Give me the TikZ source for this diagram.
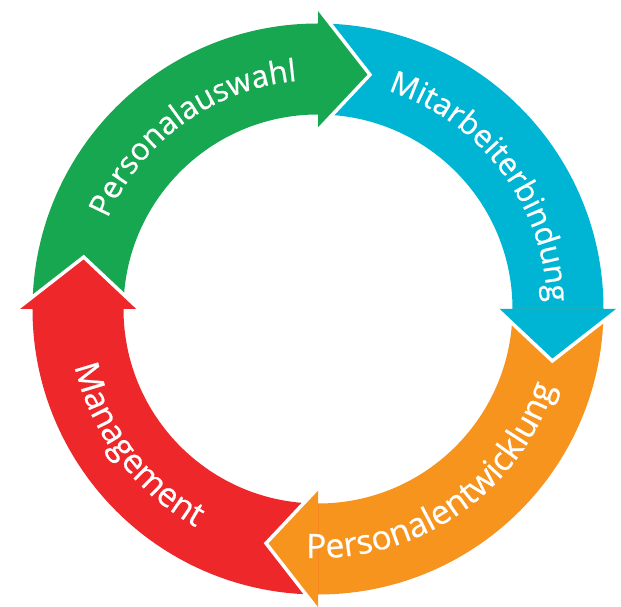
\documentclass[tikz,border=0pt]{standalone}
\usepackage{fontspec}
\setmainfont{Open Sans}
\newfontfamily\labelface{Open Sans}[FakeBold=0.6]
\usepackage{tikz}
\usetikzlibrary{decorations.text}

\definecolor{selgreen}{RGB}{23,167,81}
\definecolor{bindcyan}{RGB}{0,181,211}
\definecolor{devorange}{RGB}{247,148,30}
\definecolor{mgmtred}{RGB}{237,39,42}

\def\ringIn{194.5}
\def\ringOut{285.5}
\def\headIn{179}
\def\headOut{301}
\def\tipR{240}
\newcommand{\upperfont}{\labelface\fontsize{31pt}{31pt}\selectfont}
\newcommand{\lowerfont}{\labelface\fontsize{33.5pt}{33.5pt}\selectfont}

% body of one ring segment: colour, start angle, end angle
\newcommand{\ringpart}[3]{%
  \fill[#1] (#2:\ringIn) arc[start angle=#2, end angle=#3, radius=\ringIn]
    -- (#3:\ringOut) arc[start angle=#3, end angle=#2, radius=\ringOut] -- cycle;}
% head of one ring segment: colour, angle of its back
\newcommand{\ringhead}[2]{%
  \fill[#1] (#2:\headOut) -- ({#2-12.5}:\tipR) -- (#2:\headIn) -- cycle;
  \draw[headgap] (#2:\headOut) -- ({#2-12.5}:\tipR) -- (#2:\headIn);}

\begin{document}
\begin{tikzpicture}[x=1pt,y=1pt]

	\tikzstyle{headgap} = [draw=white, line width=3.5pt, line join=miter]
	\tikzstyle{arclabel} = [decorate, decoration={text along path,
		text align=center, text color=white}]

    \useasboundingbox (-318,-298) rectangle (303,309);
    \clip (-318,-298) rectangle (303,309);

    % Draw bodies
    \ringpart{selgreen}{180}{90}
    \ringpart{bindcyan}{90}{0}
    \ringpart{devorange}{0}{-90}
    \ringpart{mgmtred}{270}{180}

    % Draw heads
    \ringhead{selgreen}{90}
    \ringhead{bindcyan}{0}
    \ringhead{devorange}{-90}
    \ringhead{mgmtred}{180}

    % Labels
    \path [arclabel, decoration={text={|\upperfont|Personalauswahl}}]
        (166:229) arc[start angle=166, end angle=86, radius=229];
    \path [arclabel, decoration={text={|\upperfont|Mitarbeiterbindung}}]
        (82:229) arc[start angle=82, end angle=-8, radius=229];
    \path [arclabel, decoration={text={|\lowerfont|Personalentwicklung}}]
        (-102:249) arc[start angle=-102, end angle=-9, radius=249];
    \path [arclabel, decoration={text={|\lowerfont|Management}}]
        (180:250) arc[start angle=180, end angle=254, radius=250];
\end{tikzpicture}
\end{document}
